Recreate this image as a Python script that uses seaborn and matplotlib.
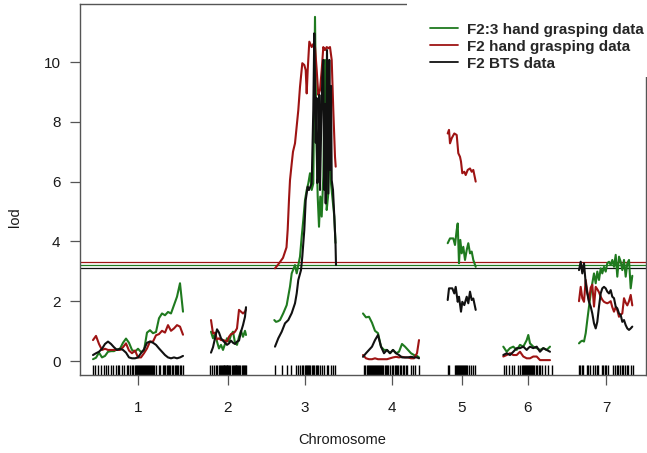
import numpy as np
import pandas as pd
import matplotlib
matplotlib.use("Agg")
import matplotlib.pyplot as plt
import seaborn as sns
from matplotlib.patches import Rectangle
from matplotlib.lines import Line2D

# ---------------- data ----------------
chromosomes = ["1", "2", "3", "4", "5", "6", "7"]
chrom_lengths = [90, 36, 63, 57, 29, 49, 54]   # cM
gap = 27

series_names = ["F2:3 hand grasping data", "F2 hand grasping data", "F2 BTS data"]
series_colors = ["#1f7a1f", "#9e1414", "#111111"]
thresholds = [3.21, 3.30, 3.12]

chr1_pos = [0, 3, 6, 9, 12, 15, 18, 21, 24, 27, 30, 33, 36, 39, 42, 45, 48, 51, 54, 57,
            60, 63, 66, 69, 72, 75, 78, 81, 84, 87, 90]
chr1_green = [0.06, 0.11, 0.28, 0.12, 0.17, 0.31, 0.33, 0.33, 0.39, 0.41, 0.61, 0.75, 0.61, 0.37, 0.31,
              0.41, 0.30, 0.35, 0.95, 1.03, 0.93, 0.97, 1.43, 1.59, 1.53, 1.64, 1.59, 1.87, 2.15, 2.60, 1.65]
chr1_red = [0.70, 0.84, 0.57, 0.37, 0.41, 0.37, 0.37, 0.37, 0.37, 0.37, 0.46, 0.59, 0.35, 0.26, 0.35,
            0.12, 0.12, 0.26, 0.42, 0.65, 0.65, 0.86, 0.90, 1.01, 0.95, 1.20, 1.01, 1.09, 1.20, 1.15, 0.88]
chr1_black = [0.20, 0.26, 0.31, 0.41, 0.57, 0.65, 0.57, 0.46, 0.37, 0.41, 0.37, 0.28, 0.12, 0.09, 0.09,
              0.12, 0.26, 0.39, 0.61, 0.65, 0.61, 0.54, 0.42, 0.31, 0.20, 0.12, 0.09, 0.12, 0.09, 0.12, 0.17]

chr2_pos = [1, 3, 5, 7, 9, 11, 13, 15, 17, 19, 21, 23, 25, 27, 29, 31, 33, 35, 36]
chr2_green = [0.98, 0.76, 0.92, 0.65, 0.42, 0.54, 0.37, 0.57, 0.76, 0.65, 0.87, 0.98, 0.61, 0.54, 0.81,
              1.01, 0.81, 1.01, 0.87]
chr2_red = [1.37, 0.92, 0.95, 0.72, 0.76, 0.70, 0.70, 0.68, 0.65, 0.81, 0.90, 0.92, 0.98, 1.09, 1.71,
            1.65, 1.59, 1.65, 1.73]
chr2_black = [0.28, 0.46, 0.76, 1.06, 0.95, 0.76, 0.68, 0.61, 0.54, 0.59, 0.68, 0.61, 0.57, 0.65, 0.68,
              0.98, 1.20, 1.48, 1.80]

chr3_pos_green = [1.3, 3, 5, 7, 10.3, 13.7, 17, 18.7, 22, 23.7, 25.3, 27, 28.7, 30.3, 32, 33.7, 35.3, 37,
                  38.7, 40.3, 42, 43.3, 44.7, 46, 47.3, 48.7, 50.3, 52, 53.7, 55.3, 56.7, 58, 59.3, 61.3, 62.5]
chr3_green = [1.37, 1.31, 1.33, 1.37, 1.60, 1.87, 2.49, 2.93, 3.21, 2.93, 3.21, 3.49, 4.16, 4.72, 5.38,
              5.72, 5.94, 6.28, 5.72, 5.94, 11.51, 7.50, 5.50, 4.49, 5.50, 4.83, 6.16, 10.07, 5.05, 5.60,
              8.40, 5.94, 5.50, 4.83, 3.95]
chr3_pos_red = [2, 5, 10, 13.5, 14.7, 16, 17, 18.7, 20, 22, 25.3, 27, 29.3, 31.3, 32.7, 33.7, 34.7, 36.3,
                38.7, 40.3, 42, 43.7, 45.3, 47, 48.7, 50.3, 52, 53.7, 55.3, 57, 58.7, 60.3, 62, 62.7]
chr3_red = [3.10, 3.22, 3.45, 3.80, 4.40, 5.40, 6.05, 6.60, 7.00, 7.28, 8.39, 9.17, 9.96, 9.90, 9.73,
            8.95, 9.73, 10.68, 10.50, 10.60, 10.50, 9.73, 8.90, 9.06, 9.73, 10.50, 10.40, 10.50, 10.46,
            10.50, 10.07, 8.39, 6.83, 6.50]
chr3_pos_black = [2, 5.3, 8.7, 12, 15.3, 18.7, 22, 23.7, 25.3, 28, 29.3, 31.3, 32.7, 34.7, 36, 38.7, 40.3,
                  41.3, 42.7, 43.5, 44.3, 45.5, 46.3, 47, 48, 49.3, 50.3, 51.3, 52, 52.7, 54, 55.3, 56.3,
                  57.3, 58, 58.7, 60, 61.3, 62.5, 63]
chr3_black = [0.48, 0.76, 0.98, 1.26, 1.37, 1.60, 1.93, 2.26, 2.71, 3.04, 3.49, 4.38, 5.38, 5.83, 5.72,
              5.94, 8.40, 10.96, 7.30, 8.80, 5.95, 6.20, 8.90, 5.72, 7.50, 9.50, 10.07, 5.72, 8.60, 5.27,
              10.40, 5.60, 10.07, 6.39, 9.20, 6.05, 5.72, 4.83, 3.94, 3.21]

chr4_pos = [0, 3, 6, 9, 12, 15, 18, 21, 24, 27, 30, 33, 36, 39, 42, 45, 48, 51, 54, 56]
chr4_green = [1.59, 1.46, 1.48, 1.28, 1.01, 0.93, 0.48, 0.37, 0.37, 0.26, 0.37, 0.26, 0.31, 0.57, 0.48,
              0.37, 0.26, 0.20, 0.17, 0.12]
chr4_red = [0.20, 0.09, 0.06, 0.06, 0.09, 0.06, 0.06, 0.06, 0.06, 0.09, 0.12, 0.14, 0.12, 0.14, 0.12,
            0.12, 0.09, 0.09, 0.26, 0.70]
chr4_black = [0.14, 0.26, 0.37, 0.48, 0.70, 0.87, 0.48, 0.26, 0.37, 0.26, 0.37, 0.26, 0.20, 0.12, 0.12,
              0.12, 0.14, 0.12, 0.12, 0.09]

chr5_pos_green = [0.7, 3, 6.3, 8, 9.7, 10.7, 12, 13.3, 14.7, 16.3, 18, 19.7, 21.3, 23, 24.7, 26.3, 28.7]
chr5_green = [3.94, 4.10, 4.10, 3.88, 4.38, 4.60, 3.27, 4.05, 3.60, 3.82, 3.38, 3.71, 3.94, 3.60, 3.66,
              3.38, 3.15]
chr5_pos_red = [0.7, 2, 3, 4.7, 7.3, 9.7, 11.3, 13, 14, 15.3, 17.3, 18.7, 20.7, 23, 24.7, 26.3, 28.7]
chr5_red = [7.61, 7.73, 7.28, 7.45, 7.61, 7.56, 6.95, 6.83, 6.67, 6.28, 6.33, 6.22, 6.39, 6.44, 6.33,
            6.39, 6.00]
chr5_pos_black = [0.7, 2, 5.3, 7.3, 8.7, 10.7, 12, 14, 15.3, 17.3, 19.7, 21.3, 23, 24.7, 26.3, 28.7]
chr5_black = [2.04, 2.43, 2.43, 2.26, 2.48, 1.98, 2.15, 1.65, 1.98, 1.87, 2.15, 1.93, 2.32, 2.04, 2.09, 1.71]

chr6_pos = [0.3, 3.7, 7, 10.3, 13.7, 17, 20.3, 23.7, 25.3, 27, 30.3, 33.7, 37, 40.3, 43.7, 47]
chr6_green = [0.48, 0.31, 0.43, 0.48, 0.37, 0.54, 0.48, 0.70, 0.87, 0.59, 0.48, 0.43, 0.37, 0.43, 0.37, 0.48]
chr6_red = [0.15, 0.20, 0.26, 0.20, 0.20, 0.31, 0.15, 0.09, 0.09, 0.09, 0.15, 0.15, 0.03, 0.03, 0.03, 0.03]
chr6_black = [0.20, 0.26, 0.20, 0.31, 0.43, 0.43, 0.48, 0.37, 0.43, 0.48, 0.43, 0.48, 0.31, 0.43, 0.37, 0.31]

chr7_pos = [0, 1.7, 3.3, 5, 6.7, 8.3, 10, 11.7, 13.3, 15, 16.7, 18.3, 20, 21.7, 23.3, 25, 26.7, 28.3, 30,
            31.7, 33.3, 35, 36.7, 38.3, 40, 41.7, 43.3, 45, 46.7, 48.3, 50, 51.7, 53.3]
chr7_green = [0.59, 0.65, 0.68, 0.65, 0.93, 1.37, 1.82, 2.26, 2.60, 2.93, 2.60, 2.99, 2.71, 3.10, 2.93,
              3.15, 2.99, 3.27, 3.32, 3.21, 3.38, 3.15, 3.55, 2.82, 3.49, 3.32, 3.04, 3.38, 2.82, 3.27,
              3.38, 2.43, 2.85]
chr7_red = [2.00, 2.48, 2.10, 1.98, 2.71, 2.32, 2.00, 2.45, 2.55, 1.82, 2.48, 2.40, 2.30, 2.15, 2.05,
            1.98, 1.95, 1.93, 1.96, 2.00, 1.80, 1.65, 1.80, 1.70, 1.48, 1.55, 1.59, 2.10, 1.95, 1.86,
            2.00, 2.21, 1.86]
chr7_black = [3.04, 3.32, 2.93, 3.27, 2.60, 2.26, 1.98, 1.82, 1.59, 1.26, 1.09, 1.31, 1.82, 2.26, 2.43,
              2.48, 2.43, 2.32, 2.26, 2.37, 2.15, 2.10, 1.82, 1.76, 1.59, 1.54, 1.31, 1.37, 1.20, 1.09,
              1.04, 1.09, 1.15]

markers_chr1 = [0, 2, 5, 7.5, 10.5, 12.5, 15, 18, 20, 22.5, 24.5, 26, 28.5, 31, 33.5, 35, 36.5, 38.5, 40,
                41.5, 42.5, 43.5, 44.5, 45.5, 46.5, 47.5, 48.5, 49.5, 50.5, 51.5, 52.5, 53.5, 54.5, 55.5,
                56.5, 57.5, 58.5, 60, 61, 63, 65.5, 67, 69.5, 71, 72, 73.5, 75, 76, 77, 78.5, 80, 81.5,
                82.5, 84, 85, 86.5, 88, 90]
markers_chr2 = [0, 2, 4, 5.5, 7, 8.5, 10, 11, 12, 13, 13.5, 14, 15, 16, 16.5, 17, 18, 19, 20, 21.5, 23,
                24, 25, 25.5, 26, 27, 28, 29, 30, 31.5, 33, 34, 35, 36]
markers_chr3 = [2, 8.7, 13.7, 18, 22.7, 25.3, 27, 28.7, 30.3, 32, 33, 33.7, 34.7, 36, 37, 38.7, 39.7, 41.3,
                42.7, 43.7, 45.3, 47, 49.3, 51.3, 53.7, 55.3, 58, 60.3, 62]
markers_chr4 = [0.5, 2, 3.5, 5, 6, 7, 8, 9, 10, 11, 12, 13, 14, 15, 16, 17, 18, 19, 20, 21.5, 23, 24, 25,
                27, 28.5, 30, 31.5, 33, 34, 35, 36.5, 38, 39.5, 41, 42.5, 44, 48, 50, 52, 56]
markers_chr5 = [1, 2, 8, 9, 10, 11, 12, 13, 14, 15, 16, 17, 18, 19, 20, 22, 24, 26, 28]
markers_chr6 = [1.3, 2.7, 6, 8.7, 11.3, 15.3, 17, 18.5, 20, 21, 22, 23, 24, 25, 26, 27, 28, 29, 30, 31,
                32.5, 34, 35.5, 37, 38.7, 42, 45.3, 48.7]
markers_chr7 = [0, 1, 2.7, 4.3, 7.7, 9.3, 11, 14.3, 16, 17.7, 19.3, 22.7, 24.3, 26, 26.7, 29.3, 34.3, 36,
                37.7, 39.3, 41, 42.7, 44.3, 46, 47.7, 49.3, 52, 54]

# ---------------- assemble ----------------
curves = [
    [(chr1_pos, chr1_green), (chr1_pos, chr1_red), (chr1_pos, chr1_black)],
    [(chr2_pos, chr2_green), (chr2_pos, chr2_red), (chr2_pos, chr2_black)],
    [(chr3_pos_green, chr3_green), (chr3_pos_red, chr3_red), (chr3_pos_black, chr3_black)],
    [(chr4_pos, chr4_green), (chr4_pos, chr4_red), (chr4_pos, chr4_black)],
    [(chr5_pos_green, chr5_green), (chr5_pos_red, chr5_red), (chr5_pos_black, chr5_black)],
    [(chr6_pos, chr6_green), (chr6_pos, chr6_red), (chr6_pos, chr6_black)],
    [(chr7_pos, chr7_green), (chr7_pos, chr7_red), (chr7_pos, chr7_black)],
]
markers = [markers_chr1, markers_chr2, markers_chr3, markers_chr4, markers_chr5, markers_chr6, markers_chr7]

offsets = np.concatenate([[0], np.cumsum(np.array(chrom_lengths[:-1]) + gap)])
mids = offsets + np.array(chrom_lengths) / 2.0

rows = []
for ci, chrom_curves in enumerate(curves):
    for si, (pos, lod) in enumerate(chrom_curves):
        for p, v in zip(pos, lod):
            rows.append({"x": p + offsets[ci], "lod": v, "series": series_names[si],
                         "unit": f"{si}_{ci}"})
df = pd.DataFrame(rows)

marker_x = np.concatenate([np.array(m) + offsets[i] for i, m in enumerate(markers)])

# ---------------- plot ----------------
sns.set_style("white")
plt.rcParams["font.family"] = ["Liberation Sans", "DejaVu Sans"]

W, H = 647, 453
fig = plt.figure(figsize=(W / 100, H / 100), dpi=100)
ax = fig.add_axes([80 / W, 1 - 375 / H, 566 / W, 371 / H])

for t, c in zip(thresholds, series_colors):
    ax.axhline(t, color=c, lw=0.9, zorder=1)

sns.lineplot(data=df, x="x", y="lod", hue="series", hue_order=series_names,
             palette=dict(zip(series_names, series_colors)), units="unit", estimator=None,
             sort=False, lw=1.5, legend=False, ax=ax)

sns.rugplot(x=marker_x, height=0.026, color="black", lw=0.7, ax=ax, expand_margins=False)

ax.set_xlim(offsets[0] - 13, offsets[-1] + chrom_lengths[-1] + 13)
ax.set_ylim(-0.468, 11.94)
ax.set_xticks(mids)
ax.set_xticklabels(chromosomes)
ax.set_yticks([0, 2, 4, 6, 8, 10])
ax.set_yticklabels(["0", "2", "4", "6", "8", "10"])
ax.tick_params(axis="both", bottom=True, left=True, direction="out", length=7, width=0.9,
               color="#555555", labelsize=11, labelcolor="#1a1a1a")
ax.tick_params(axis="x", pad=12)
ax.tick_params(axis="y", pad=7)
ax.set_xlabel("")
ax.set_ylabel("")
for s in ax.spines.values():
    s.set_color("#555555")
    s.set_linewidth(1.0)

fig.text(342 / W, 1 - 440 / H, "Chromosome", ha="center", va="center", fontsize=10.5, color="#1a1a1a")
fig.text(15 / W, 1 - 217 / H, "lod", ha="center", va="center", rotation=90, fontsize=10.5, color="#1a1a1a")

fig.add_artist(Rectangle((407 / W, 1 - 77 / H), (W - 407) / W, 77 / H, transform=fig.transFigure,
                         facecolor="white", edgecolor="none", zorder=3))
handles = [Line2D([0], [0], color=c, lw=1.3) for c in series_colors]
leg = fig.legend(handles, series_names, loc="upper left", bbox_to_anchor=(422 / W, 1 - 15 / H),
                 bbox_transform=fig.transFigure, frameon=False, borderpad=0, handlelength=1.85,
                 handletextpad=0.6, labelspacing=0.2, prop={"weight": "bold", "size": 11})
leg.set_zorder(5)

fig.savefig("out.png", dpi=100)
